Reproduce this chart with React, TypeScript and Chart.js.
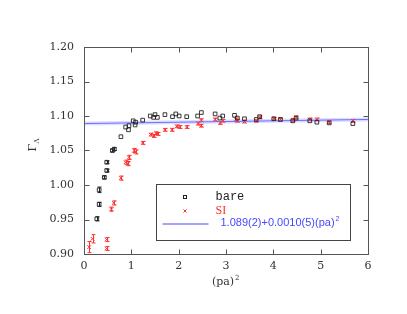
import React, { useEffect, useRef } from "react";
import { Chart, registerables } from "chart.js";
Chart.register(...registerables);

const bareX = [0.27, 0.32, 0.32, 0.43, 0.48, 0.48, 0.60, 0.64, 0.78, 0.88, 0.94, 0.95, 1.04, 1.08, 1.09, 1.24, 1.40, 1.47, 1.50, 1.55, 1.71, 1.87, 1.94, 2.01, 2.17, 2.40, 2.48, 2.77, 2.87, 2.93, 3.18, 3.24, 3.39, 3.64, 3.71, 4.01, 4.15, 4.41, 4.48, 4.77, 4.92, 5.18, 5.68];
const bareY = [0.951, 0.972, 0.993, 1.011, 1.021, 1.033, 1.050, 1.052, 1.070, 1.084, 1.080, 1.086, 1.093, 1.087, 1.091, 1.094, 1.100, 1.098, 1.102, 1.098, 1.102, 1.099, 1.103, 1.100, 1.099, 1.100, 1.105, 1.103, 1.097, 1.100, 1.101, 1.097, 1.096, 1.095, 1.099, 1.096, 1.095, 1.093, 1.097, 1.093, 1.091, 1.090, 1.089];
const bareErr = [0.003, 0.003, 0.004, 0.002, 0.002, 0.002, 0.002, 0.002, 0, 0, 0, 0, 0, 0, 0, 0, 0, 0, 0, 0, 0, 0, 0, 0, 0, 0, 0, 0, 0, 0, 0, 0, 0, 0, 0, 0, 0, 0, 0, 0, 0, 0, 0];

const siX = [0.11, 0.18, 0.48, 0.48, 0.58, 0.63, 0.78, 0.88, 0.93, 0.95, 1.06, 1.09, 1.24, 1.41, 1.48, 1.52, 1.56, 1.71, 1.86, 1.96, 2.02, 2.17, 2.41, 2.48, 2.48, 2.77, 2.88, 2.93, 3.21, 3.24, 3.39, 3.64, 3.71, 4.01, 4.15, 4.41, 4.48, 4.77, 4.92, 5.18, 5.68];
const siY = [0.910, 0.922, 0.908, 0.921, 0.965, 0.974, 1.010, 1.033, 1.031, 1.040, 1.050, 1.048, 1.061, 1.073, 1.071, 1.075, 1.074, 1.080, 1.080, 1.085, 1.084, 1.084, 1.089, 1.086, 1.094, 1.095, 1.090, 1.093, 1.095, 1.093, 1.092, 1.093, 1.098, 1.096, 1.095, 1.094, 1.098, 1.095, 1.095, 1.091, 1.093];
const siErr = [0.008, 0.006, 0.003, 0.003, 0.003, 0.003, 0.003, 0.003, 0.003, 0.003, 0.003, 0.003, 0.002, 0.002, 0.002, 0.002, 0.002, 0.002, 0.002, 0.002, 0.002, 0.002, 0.002, 0.002, 0.002, 0.002, 0.002, 0.002, 0.002, 0.002, 0.002, 0.002, 0.002, 0.002, 0.002, 0.002, 0.002, 0.002, 0.002, 0.002, 0.002];

const fitA = 1.089;
const fitB = 0.0010;
const fitX = [0, 6];

const xTicks = [0, 1, 2, 3, 4, 5, 6];
const yTicks = [0.90, 0.95, 1.00, 1.05, 1.10, 1.15, 1.20];

const labelBare = "bare";
const labelSI = "SI";
const labelFit = "1.089(2)+0.0010(5)(pa)";
const xTitle = "(pa)";
const yTitle = "Γ";
const ySub = "Λ";

const BLACK = "#222222";
const RED = "#ff3030";
const BLUE = "#4848ff";
const FRAME = "#555555";
const TEXT = "#333333";
const SERIF = "'DejaVu Serif', serif";

const errs = [bareErr, siErr];

const customPlugin = {
  id: "custom",
  beforeDatasetsDraw(chart: any) {
    const { ctx } = chart;
    const xs = chart.scales.x, ys = chart.scales.y;
    ctx.save();
    [0, 1].forEach((di) => {
      const ds = chart.data.datasets[di];
      ctx.strokeStyle = di === 0 ? BLACK : RED;
      ctx.lineWidth = 1;
      ds.data.forEach((p: any, i: number) => {
        const e = errs[di][i];
        if (!e) return;
        const px = Math.round(xs.getPixelForValue(p.x)) + 0.5;
        const y1 = ys.getPixelForValue(p.y + e);
        const y2 = ys.getPixelForValue(p.y - e);
        ctx.beginPath();
        ctx.moveTo(px, y1);
        ctx.lineTo(px, y2);
        ctx.moveTo(px - 2, y1);
        ctx.lineTo(px + 2, y1);
        ctx.moveTo(px - 2, y2);
        ctx.lineTo(px + 2, y2);
        ctx.stroke();
      });
    });
    ctx.restore();
  },
  afterDraw(chart: any) {
    const { ctx, chartArea: ca } = chart;
    const xs = chart.scales.x, ys = chart.scales.y;
    ctx.save();
    // frame
    ctx.strokeStyle = FRAME;
    ctx.lineWidth = 1;
    const L = Math.round(ca.left) + 0.5, R = Math.round(ca.right) + 0.5;
    const T = Math.round(ca.top) + 0.5, B = Math.round(ca.bottom) + 0.5;
    ctx.strokeRect(L, T, R - L, B - T);
    const tl = 5;
    ctx.beginPath();
    xTicks.forEach((v) => {
      const px = Math.round(xs.getPixelForValue(v)) + 0.5;
      ctx.moveTo(px, B); ctx.lineTo(px, B - tl);
      ctx.moveTo(px, T); ctx.lineTo(px, T + tl);
    });
    yTicks.forEach((v) => {
      const py = Math.round(ys.getPixelForValue(v)) + 0.5;
      ctx.moveTo(L, py); ctx.lineTo(L + tl, py);
      ctx.moveTo(R, py); ctx.lineTo(R - tl, py);
    });
    ctx.stroke();

    // axis titles
    ctx.fillStyle = TEXT;
    ctx.font = `11px ${SERIF}`;
    ctx.textBaseline = "alphabetic";
    const xtW = ctx.measureText(xTitle).width;
    const cx = (ca.left + ca.right) / 2;
    ctx.textAlign = "left";
    ctx.fillText(xTitle, cx - xtW / 2 - 3, ca.bottom + 31);
    ctx.font = `7px ${SERIF}`;
    ctx.fillText("2", cx + xtW / 2 - 2, ca.bottom + 26);

    ctx.save();
    ctx.translate(ca.left - 48, (ca.top + ca.bottom) / 2 - 3);
    ctx.rotate(-Math.PI / 2);
    ctx.font = `11px ${SERIF}`;
    ctx.textAlign = "left";
    ctx.fillText(yTitle, -4, 0);
    ctx.font = `7px ${SERIF}`;
    ctx.fillText(ySub, 4, 3);
    ctx.restore();

    // legend
    const bx = Math.round(xs.getPixelForValue(1.52)) + 0.5;
    const bx2 = Math.round(xs.getPixelForValue(5.62)) + 0.5;
    const by = Math.round(ys.getPixelForValue(1.002)) + 0.5;
    const by2 = Math.round(ys.getPixelForValue(0.920)) + 0.5;
    ctx.fillStyle = "#ffffff";
    ctx.fillRect(bx, by, bx2 - bx, by2 - by);
    ctx.strokeStyle = "#444444";
    ctx.strokeRect(bx, by, bx2 - bx, by2 - by);

    const mx = bx + 28.5;
    const r1 = by + 12.5, r2 = by + 26.5, r3 = by + 39.5;
    ctx.strokeStyle = BLACK;
    ctx.strokeRect(mx - 1.5, r1 - 1.5, 3, 3);
    ctx.strokeStyle = RED;
    ctx.beginPath();
    ctx.moveTo(mx - 1.5, r2 - 1.5); ctx.lineTo(mx + 1.5, r2 + 1.5);
    ctx.moveTo(mx + 1.5, r2 - 1.5); ctx.lineTo(mx - 1.5, r2 + 1.5);
    ctx.stroke();
    ctx.strokeStyle = BLUE;
    ctx.beginPath();
    ctx.moveTo(bx + 6, r3); ctx.lineTo(bx + 52, r3);
    ctx.stroke();

    ctx.textAlign = "left";
    ctx.textBaseline = "middle";
    ctx.fillStyle = "#222222";
    ctx.font = "12px 'Liberation Mono', monospace";
    ctx.fillText(labelBare, bx + 59, r1);
    ctx.fillStyle = RED;
    ctx.font = "12px 'Liberation Serif', serif";
    ctx.fillText(labelSI, bx + 59, r2);
    ctx.fillStyle = BLUE;
    ctx.font = "11px 'Liberation Sans', sans-serif";
    ctx.fillText(labelFit, bx + 64, r3 - 1);
    const fw = ctx.measureText(labelFit).width;
    ctx.font = "7px 'Liberation Sans', sans-serif";
    ctx.fillText("2", bx + 64 + fw + 1, r3 - 5);
    ctx.restore();
  },
};

export default function App() {
  const ref = useRef<HTMLCanvasElement>(null);
  useEffect(() => {
    if (!ref.current) return;
    const fitData = fitX.map((x) => ({ x, y: fitA + fitB * x }));
    const chart = new Chart(ref.current, {
      type: "scatter",
      data: {
        datasets: [
          {
            label: labelBare,
            data: bareX.map((x, i) => ({ x, y: bareY[i] })),
            pointStyle: "rect",
            pointRadius: 2.6,
            pointBorderColor: BLACK,
            pointBackgroundColor: "rgba(0,0,0,0)",
            pointBorderWidth: 0.9,
            borderColor: BLACK,
            backgroundColor: "rgba(0,0,0,0)",
          },
          {
            label: labelSI,
            data: siX.map((x, i) => ({ x, y: siY[i] })),
            pointStyle: "crossRot",
            pointRadius: 2.6,
            pointBorderColor: RED,
            pointBorderWidth: 1,
            borderColor: RED,
          },
          {
            type: "line",
            label: "band",
            data: fitData,
            borderColor: "rgba(170,170,255,0.4)",
            borderWidth: 4,
            pointRadius: 0,
          },
          {
            type: "line",
            label: labelFit,
            data: fitData,
            borderColor: BLUE,
            borderWidth: 1,
            pointRadius: 0,
          },
        ] as any,
      },
      options: {
        animation: false,
        responsive: false,
        layout: { padding: { left: 0, top: 47, right: 39, bottom: 0 } },
        plugins: { legend: { display: false }, tooltip: { enabled: false } },
        scales: {
          x: {
            type: "linear",
            min: 0,
            max: 6,
            afterBuildTicks: (s: any) => { s.ticks = xTicks.map((v) => ({ value: v })); },
            afterFit: (s: any) => { s.height = 60; },
            grid: { display: false, drawTicks: false },
            border: { display: false },
            ticks: { padding: 6, color: TEXT, font: { family: SERIF, size: 11 } },
          },
          y: {
            type: "linear",
            min: 0.9,
            max: 1.2,
            afterBuildTicks: (s: any) => { s.ticks = yTicks.map((v) => ({ value: v })); },
            afterFit: (s: any) => { s.width = 84; },
            grid: { display: false, drawTicks: false },
            border: { display: false },
            ticks: {
              padding: 10,
              color: TEXT,
              font: { family: SERIF, size: 11 },
              callback: (v: any) => Number(v).toFixed(2),
            },
          },
        },
      } as any,
      plugins: [customPlugin],
    });
    return () => chart.destroy();
  }, []);
  return (
    <div style={{ position: "absolute", left: 0, top: 0, width: 407, height: 314, background: "#fff" }}>
      <canvas ref={ref} width={407} height={314} />
    </div>
  );
}
